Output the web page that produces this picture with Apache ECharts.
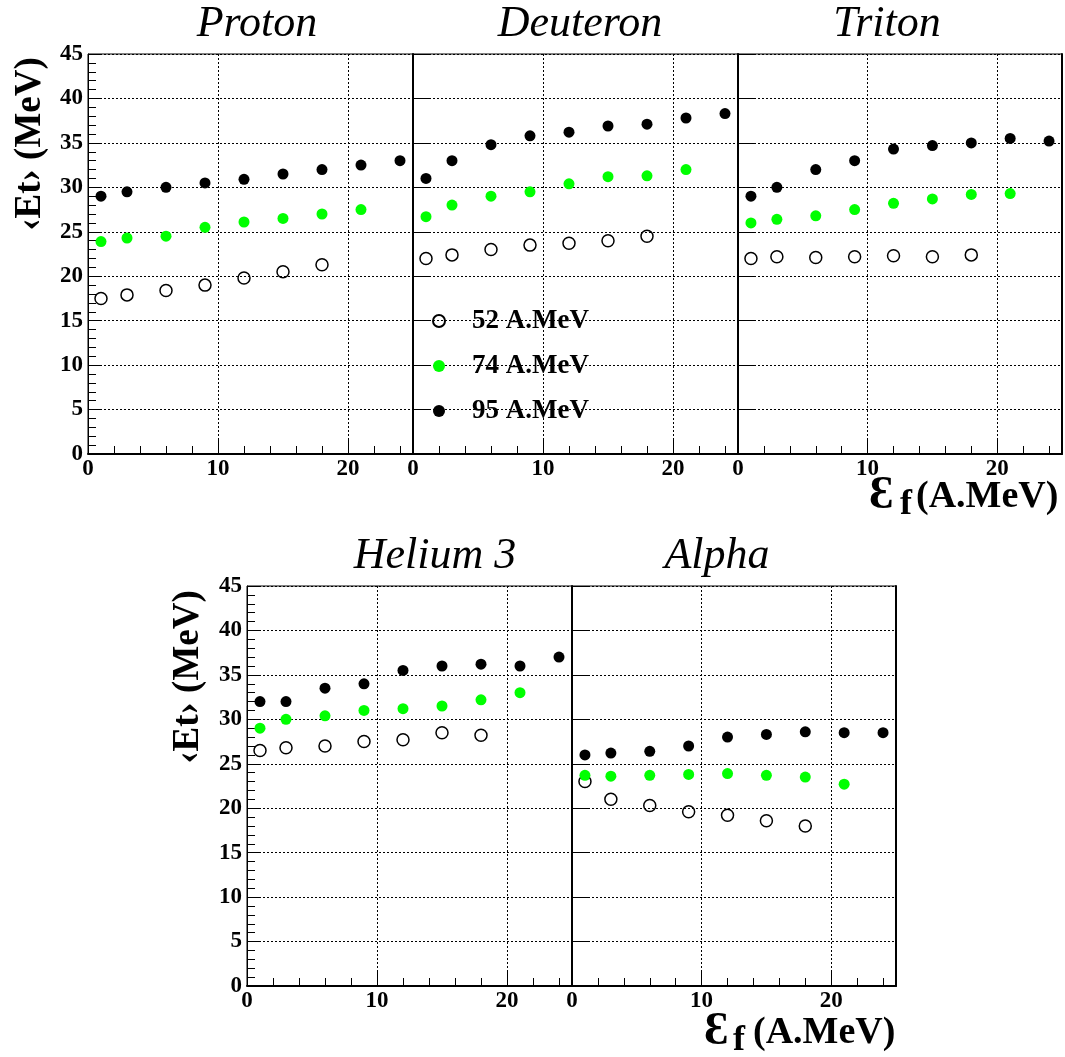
<!DOCTYPE html>
<html><head><meta charset="utf-8">
<script src="https://cdn.jsdelivr.net/npm/echarts@6.0.0/dist/echarts.min.js"></script>
<style>html,body{margin:0;padding:0;background:#fff}#c{width:1065px;height:1057px}</style>
</head><body><div id="c"></div>
<script>
// ---- data ----
const energies = [1, 3, 6, 9, 12, 15, 18, 21, 24];
const seriesNames = ['52 A.MeV', '74 A.MeV', '95 A.MeV'];
const panelTitles = ['Proton', 'Deuteron', 'Triton', 'Helium 3', 'Alpha'];
const yTitle = '‹Et› (MeV)';
const xTitleSymbol = 'Ɛ';
const xTitleSub = 'f';
const xTitleUnit = '(A.MeV)';

const proton52 = [17.5, 17.9, 18.4, 19.0, 19.8, 20.5, 21.3];
const proton74 = [23.9, 24.3, 24.5, 25.5, 26.1, 26.5, 27.0, 27.5];
const proton95 = [29.0, 29.5, 30.0, 30.5, 30.9, 31.5, 32.0, 32.5, 33.0];
const deuteron52 = [22.0, 22.4, 23.0, 23.5, 23.7, 24.0, 24.5];
const deuteron74 = [26.7, 28.0, 29.0, 29.5, 30.4, 31.2, 31.3, 32.0];
const deuteron95 = [31.0, 33.0, 34.8, 35.8, 36.2, 36.9, 37.1, 37.8, 38.3];
const triton52 = [22.0, 22.2, 22.1, 22.2, 22.3, 22.2, 22.4];
const triton74 = [26.0, 26.4, 26.8, 27.5, 28.2, 28.7, 29.2, 29.3];
const triton95 = [29.0, 30.0, 32.0, 33.0, 34.3, 34.7, 35.0, 35.5, 35.2];
const helium52 = [26.5, 26.8, 27.0, 27.5, 27.7, 28.5, 28.2];
const helium74 = [29.0, 30.0, 30.4, 31.0, 31.2, 31.5, 32.2, 33.0];
const helium95 = [32.0, 32.0, 33.5, 34.0, 35.5, 36.0, 36.2, 36.0, 37.0];
const alpha52 = [23.0, 21.0, 20.3, 19.6, 19.2, 18.6, 18.0];
const alpha74 = [23.7, 23.6, 23.7, 23.8, 23.9, 23.7, 23.5, 22.7];
const alpha95 = [26.0, 26.2, 26.4, 27.0, 28.0, 28.3, 28.6, 28.5, 28.5];

const panelData = [
  [proton52, proton74, proton95],
  [deuteron52, deuteron74, deuteron95],
  [triton52, triton74, triton95],
  [helium52, helium74, helium95],
  [alpha52, alpha74, alpha95]
];

// ---- layout / styles ----
const FONT = '"Liberation Serif","Times New Roman",serif';
const grids = [
  {left: 88, top: 54, width: 325, height: 400},
  {left: 413, top: 54, width: 325, height: 400},
  {left: 738, top: 54, width: 324, height: 400},
  {left: 247, top: 586, width: 325, height: 400},
  {left: 572, top: 586, width: 324, height: 400}
];
const firstInRow = [true, false, false, true, false];
const lastInRow = [false, false, true, false, true];
const dotted = {color: '#000', width: 1, type: [2, 2]};
const markStyles = [
  {color: 'rgba(255,255,255,0)', borderColor: '#000', borderWidth: 1.5, opacity: 1},
  {color: '#00ff00', opacity: 1},
  {color: '#000', opacity: 1}
];
const markSizes = [12, 11, 11];

const xAxes = [], yAxes = [], series = [];
grids.forEach((g, gi) => {
  xAxes.push({
    gridIndex: gi, type: 'value', min: 0, max: 25, interval: 10,
    axisLine: {show: true, onZero: false, lineStyle: {color: '#000', width: 2}},
    axisTick: {show: true, inside: true, length: 16, lineStyle: {color: '#000', width: 1}},
    axisLabel: {show: true, showMaxLabel: false, margin: 4, color: '#000',
      fontFamily: FONT, fontWeight: 'bold', fontSize: 23},
    splitLine: {show: true, lineStyle: dotted}
  });
  xAxes.push({
    gridIndex: gi, type: 'value', min: 0, max: 25, interval: 2, position: 'bottom',
    axisLine: {show: false}, axisLabel: {show: false}, splitLine: {show: false},
    axisTick: {show: true, inside: true, length: 8, lineStyle: {color: '#000', width: 1}}
  });
});
grids.forEach((g, gi) => {
  const first = firstInRow[gi];
  yAxes.push({
    gridIndex: gi, type: 'value', min: 0, max: 45, interval: 5,
    axisLine: {show: true, onZero: false, lineStyle: {color: '#000', width: first ? 1 : 2}},
    axisTick: {show: true, inside: true, length: first ? 13 : 16, lineStyle: {color: '#000', width: 1}},
    minorTick: {show: first, splitNumber: 5, length: 8, lineStyle: {color: '#000', width: 1}},
    axisLabel: {show: first, margin: 5, color: '#000', fontFamily: FONT, fontWeight: 'bold', fontSize: 23},
    splitLine: {show: true, lineStyle: dotted}
  });
});
grids.forEach((g, gi) => {
  if (lastInRow[gi]) {
    yAxes.push({
      gridIndex: gi, type: 'value', min: 0, max: 45, interval: 5, position: 'right',
      axisLine: {show: true, onZero: false, lineStyle: {color: '#000', width: 2}},
      axisTick: {show: false}, axisLabel: {show: false}, splitLine: {show: false}
    });
  }
});

panelData.forEach((sets, pi) => {
  sets.forEach((vals, si) => {
    series.push({
      type: 'scatter', name: seriesNames[si],
      xAxisIndex: pi * 2, yAxisIndex: pi,
      symbol: 'circle', symbolSize: markSizes[si], symbolKeepAspect: true,
      itemStyle: markStyles[si],
      emphasis: {disabled: true}, silent: true,
      data: vals.map((v, i) => [energies[i], v])
    });
  });
});

// ---- titles (text) ----
const titlePos = [[257, 24], [580, 24], [887, 24], [435, 556], [717, 556]];
const graphics = [];
panelTitles.forEach((t, i) => {
  graphics.push({type: 'text', x: titlePos[i][0], y: titlePos[i][1], silent: true,
    style: {text: t, fill: '#000', font: 'italic 44px ' + FONT, align: 'center', verticalAlign: 'middle'}});
});
[[30, 144], [188, 677]].forEach(p => {
  graphics.push({type: 'text', x: p[0], y: p[1], rotation: Math.PI / 2, silent: true,
    style: {text: yTitle, fill: '#000', font: 'bold 37px ' + FONT, align: 'center', verticalAlign: 'middle'}});
});
[[869, 900, 916, 497], [704, 733, 753, 1033]].forEach(p => {
  graphics.push({type: 'text', x: p[0], y: p[3] - 1, silent: true,
    style: {text: xTitleSymbol, fill: '#000', font: 'bold 46px ' + FONT, align: 'left', verticalAlign: 'middle'}});
  graphics.push({type: 'text', x: p[1], y: p[3] + 8, silent: true,
    style: {text: xTitleSub, fill: '#000', font: 'bold 36px ' + FONT, align: 'left', verticalAlign: 'middle'}});
  graphics.push({type: 'text', x: p[2], y: p[3], silent: true,
    style: {text: xTitleUnit, fill: '#000', font: 'bold 38px ' + FONT, align: 'left', verticalAlign: 'middle'}});
});

const chart = echarts.init(document.getElementById('c'), null, {renderer: 'canvas'});
chart.setOption({
  backgroundColor: '#fff',
  animation: false,
  grid: grids.map(g => Object.assign({show: true, borderColor: '#000', borderWidth: 1, backgroundColor: 'transparent'}, g)),
  xAxis: xAxes,
  yAxis: yAxes,
  legend: {
    data: seriesNames, orient: 'vertical', left: 432, top: 306, padding: 0,
    itemWidth: 56, itemHeight: 12, itemGap: 15, selectedMode: false,
    textStyle: {color: '#000', fontFamily: FONT, fontWeight: 'bold', fontSize: 27, lineHeight: 30}
  },
  series: series,
  graphic: graphics
});
</script></body></html>
